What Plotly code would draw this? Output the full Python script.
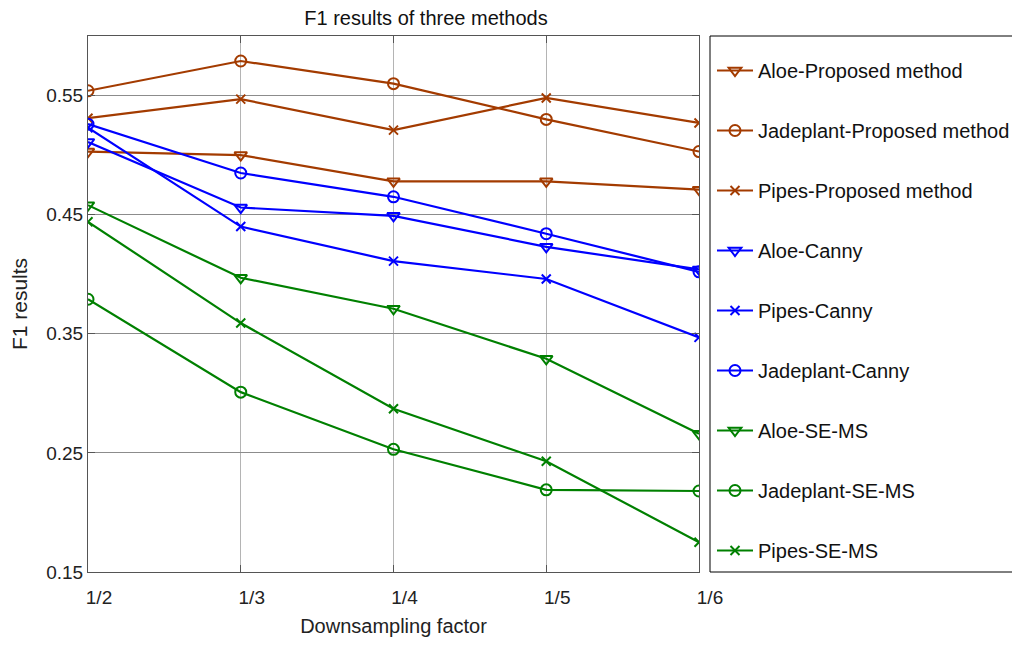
import plotly.graph_objects as go

categories = ["1/2", "1/3", "1/4", "1/5", "1/6"]

aloe_proposed = [0.503, 0.500, 0.478, 0.478, 0.471]
jade_proposed = [0.554, 0.579, 0.560, 0.530, 0.503]
pipes_proposed = [0.531, 0.547, 0.521, 0.548, 0.527]
aloe_canny = [0.511, 0.456, 0.449, 0.423, 0.404]
pipes_canny = [0.523, 0.440, 0.411, 0.396, 0.347]
jade_canny = [0.526, 0.485, 0.465, 0.434, 0.402]
aloe_sems = [0.458, 0.397, 0.371, 0.329, 0.266]
jade_sems = [0.379, 0.301, 0.253, 0.219, 0.218]
pipes_sems = [0.444, 0.359, 0.287, 0.243, 0.175]

names = ["Aloe-Proposed method", "Jadeplant-Proposed method", "Pipes-Proposed method",
         "Aloe-Canny", "Pipes-Canny", "Jadeplant-Canny",
         "Aloe-SE-MS", "Jadeplant-SE-MS", "Pipes-SE-MS"]
series = [aloe_proposed, jade_proposed, pipes_proposed,
          aloe_canny, pipes_canny, jade_canny,
          aloe_sems, jade_sems, pipes_sems]

BROWN = "#A33B00"
BLUE = "#0000FF"
GREEN = "#008000"
colors = [BROWN, BROWN, BROWN, BLUE, BLUE, BLUE, GREEN, GREEN, GREEN]
symbols = ["triangle-down-open", "circle-open", "x-thin-open",
           "triangle-down-open", "x-thin-open", "circle-open",
           "triangle-down-open", "circle-open", "x-thin-open"]

FONT = "Liberation Sans, Arial, sans-serif"

# page has an 8px body margin; figure pixel = page pixel - 8
W, H = 1004, 629
L, T = 80, 28
R = W - (699 - 8)
B = H - (572 - 8)
PW = W - L - R
PH = H - T - B

fig = go.Figure()
for i, (n, s, c, sym) in enumerate(zip(names, series, colors, symbols)):
    fig.add_trace(go.Scatter(
        x=categories, y=s, name=n, mode="lines+markers",
        legendgroup=f"g{i}",
        line=dict(color=c, width=2.2),
        marker=dict(symbol=sym, size=11 if "x" not in sym else 9,
                    color=c, line=dict(color=c, width=2)),
    ))

# legend frame (its right side runs past the edge of the image)
bx0 = (702 - L) / PW
bx1 = (1100 - L) / PW
fig.add_shape(type="path", xref="paper", yref="paper",
              path=f"M {bx1},1 L {bx0},1 L {bx0},0 L {bx1},0",
              line=dict(color="black", width=1))

fig.update_layout(
    width=W, height=H,
    margin=dict(l=L, r=R, t=T, b=B, autoexpand=False),
    paper_bgcolor="white", plot_bgcolor="white",
    font=dict(family=FONT, size=20, color="#222"),
    title=dict(text="F1 results of three methods", x=(426 - 8) / W,
               xanchor="center", y=1 - 10 / H, yanchor="middle",
               font=dict(size=20, color="#111")),
    showlegend=True,
    legend=dict(x=(704 - L) / PW, xanchor="left", y=1 - 15 / PH, yanchor="top",
                bgcolor="rgba(0,0,0,0)", borderwidth=0,
                tracegroupgap=31, font=dict(size=20, color="#111"),
                itemwidth=36),
    xaxis=dict(
        type="category", range=[0, 4],
        showgrid=True, gridcolor="#b4b4b4", gridwidth=1,
        showline=True, linecolor="#555", linewidth=1, mirror="allticks",
        ticks="inside", ticklen=7, tickcolor="#555",
        tickfont=dict(size=19, color="#222"),
        ticklabelstandoff=8, ticklabelshift=11,
        title=dict(text="Downsampling factor", font=dict(size=20, color="#222"), standoff=16),
        zeroline=False,
    ),
    yaxis=dict(
        range=[0.15, 0.6],
        tickvals=[0.15, 0.25, 0.35, 0.45, 0.55],
        ticktext=["0.15", "0.25", "0.35", "0.45", "0.55"],
        showgrid=True, gridcolor="#8c8c8c", gridwidth=1,
        showline=True, linecolor="#555", linewidth=1, mirror="allticks",
        ticks="inside", ticklen=7, tickcolor="#555",
        tickfont=dict(size=19, color="#222"),
        title=dict(text="F1 results", font=dict(size=21, color="#222"), standoff=18),
        zeroline=False,
    ),
)

fig.write_html("out.html")
